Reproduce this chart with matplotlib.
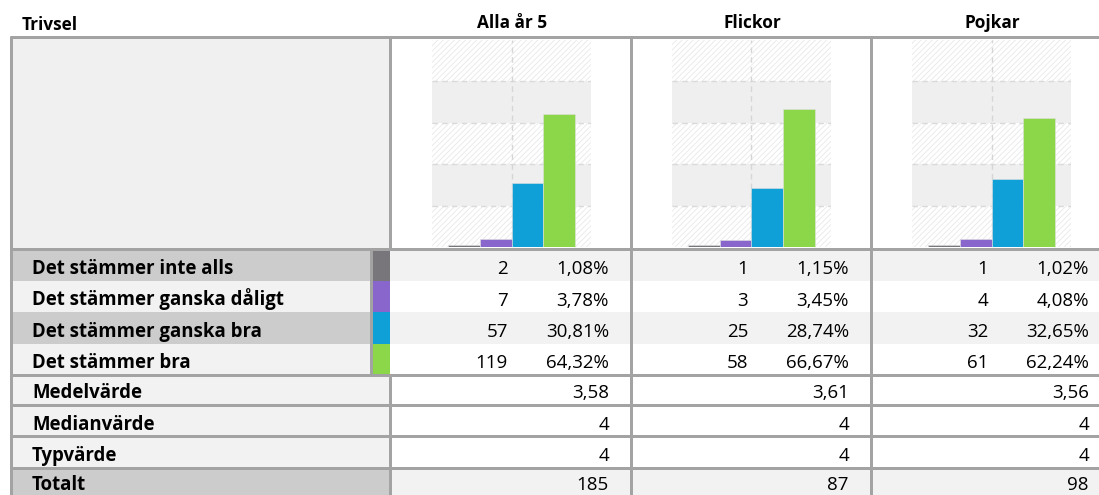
"""
Trivsel table: response distribution per group with small bar charts.
"""
import matplotlib
matplotlib.use('Agg')
import matplotlib.pyplot as plt
from matplotlib.patches import Rectangle

plt.rcParams['font.family'] = ['Open Sans', 'DejaVu Sans']
plt.rcParams['hatch.linewidth'] = 0.6
plt.rcParams['hatch.color'] = '#e8e8e8'

# ── data ──
title = 'Trivsel'
groups = ['Alla år 5', 'Flickor', 'Pojkar']
categories = ['Det stämmer inte alls', 'Det stämmer ganska dåligt',
              'Det stämmer ganska bra', 'Det stämmer bra']
counts_alla = [2, 7, 57, 119]
pct_alla = [1.08, 3.78, 30.81, 64.32]
counts_flickor = [1, 3, 25, 58]
pct_flickor = [1.15, 3.45, 28.74, 66.67]
counts_pojkar = [1, 4, 32, 61]
pct_pojkar = [1.02, 4.08, 32.65, 62.24]
stat_labels = ['Medelvärde', 'Medianvärde', 'Typvärde', 'Totalt']
medel = [3.58, 3.61, 3.56]
median = [4, 4, 4]
typvarde = [4, 4, 4]
totalt = [185, 87, 98]

counts = [counts_alla, counts_flickor, counts_pojkar]
pcts = [pct_alla, pct_flickor, pct_pojkar]
stats = [medel, median, typvarde, totalt]

COLORS = ['#78767a', '#8966cc', '#0ea0d7', '#8cd64a']
LINE = '#a3a3a3'
DARK = '#cccccc'
LIGHT = '#f2f2f2'

W, H = 1099, 495
fig = plt.figure(figsize=(W / 100, H / 100), dpi=100)
ax = fig.add_axes([0, 0, 1, 1])
ax.set_xlim(0, W)
ax.set_ylim(H, 0)
ax.axis('off')

def fmt(v, dec=2):
    return f'{v:.{dec}f}'.replace('.', ',')

def rect(x0, y0, x1, y1, color):
    ax.add_patch(Rectangle((x0, y0), x1 - x0, y1 - y0, facecolor=color, edgecolor='none', zorder=1))

lw = 3 * 72 / 100
col_x = [390, 630, 870]
col_w = 240
top, chart_bot = 37, 249
row_y = [249, 280.5, 312, 343.5, 374.5]
stat_y = [374.5, 405, 436, 467.5, 497]

LAB_FS, NUM_FS, HEAD_FS = 13.4, 13.5, 12.4

# header
ax.text(22, 29.5, title, fontsize=HEAD_FS, fontweight='bold', va='baseline', ha='left')
for i, g in enumerate(groups):
    ax.text(col_x[i] + col_w / 2 + 2, 28.5, g, fontsize=HEAD_FS, fontweight='bold',
            va='baseline', ha='center')

# chart row background
rect(11, top, 390, chart_bot, '#f0f0f0')

# category rows
for r, cat in enumerate(categories):
    y0, y1 = row_y[r], row_y[r + 1]
    rect(11, y0, 371, y1, DARK if r % 2 == 0 else LIGHT)
    rect(371, y0, 390, y1, COLORS[r])
    rect(390, y0, W, y1, LIGHT if r % 2 == 0 else 'white')
    base = y1 - 6.5
    ax.text(32, base, cat, fontsize=LAB_FS, fontweight='bold', va='baseline', ha='left', zorder=3)
    for i in range(3):
        ax.text(col_x[i] + 118, base, str(counts[i][r]), fontsize=NUM_FS, va='baseline', ha='right', zorder=3)
        ax.text(col_x[i] + 219, base, fmt(pcts[i][r]) + '%', fontsize=NUM_FS, va='baseline', ha='right', zorder=3)

# stat rows
for r, lab in enumerate(stat_labels):
    y0, y1 = stat_y[r], stat_y[r + 1]
    rect(11, y0, 390, max(y1, H), DARK if lab == 'Totalt' else LIGHT)
    rect(390, y0, W, max(y1, H), LIGHT if lab == 'Totalt' else 'white')
    base = y1 - 6.5
    ax.text(32, base, lab, fontsize=LAB_FS, fontweight='bold', va='baseline', ha='left', zorder=3)
    for i in range(3):
        v = stats[r][i]
        s = fmt(v) if isinstance(v, float) else str(v)
        ax.text(col_x[i] + 219, base, s, fontsize=NUM_FS, va='baseline', ha='right', zorder=3)

# grid lines
ax.hlines([36.5], 10, W, color=LINE, lw=lw, zorder=4)
ax.hlines([chart_bot] + stat_y[:4], 10, W, color=LINE, lw=lw, zorder=4)
ax.vlines(11, top - 1, H, color=LINE, lw=lw, zorder=4)
ax.vlines(390, top - 1, chart_bot, color=LINE, lw=lw, zorder=4)
ax.vlines(390, stat_y[0], H, color=LINE, lw=lw, zorder=4)
ax.vlines(370.5, chart_bot, stat_y[0] + 1.5, color=LINE, lw=lw, zorder=4)
for x in col_x[1:]:
    ax.vlines(x + 0.5, top - 1, H, color=LINE, lw=lw, zorder=4)

# small bar charts
for i in range(3):
    x0 = col_x[i] + 42
    bx = fig.add_axes([x0 / W, 1 - 247 / H, 159 / W, 207 / H])
    bx.set_xlim(-1, 4)
    bx.set_ylim(0, 100)
    for b in range(5):
        if b % 2 == 0:
            bx.axhspan(b * 20, b * 20 + 20, facecolor='white', edgecolor='#e8e8e8',
                       hatch='//////', linewidth=0, zorder=0)
        else:
            bx.axhspan(b * 20, b * 20 + 20, facecolor='#efefef', edgecolor='none', zorder=0)
    for yv in (20, 40, 60, 80):
        bx.axhline(yv, color='#dadada', lw=1, ls=(0, (4, 3)), zorder=1)
    bx.axvline(1.5, color='#d6d6d6', lw=1, ls=(0, (4, 3)), zorder=1)
    bx.bar(range(4), pcts[i], width=1, color=COLORS, edgecolor='#e0e0e0', linewidth=0.4, zorder=2)
    bx.axis('off')

fig.savefig('out.png', dpi=100, facecolor='white')
